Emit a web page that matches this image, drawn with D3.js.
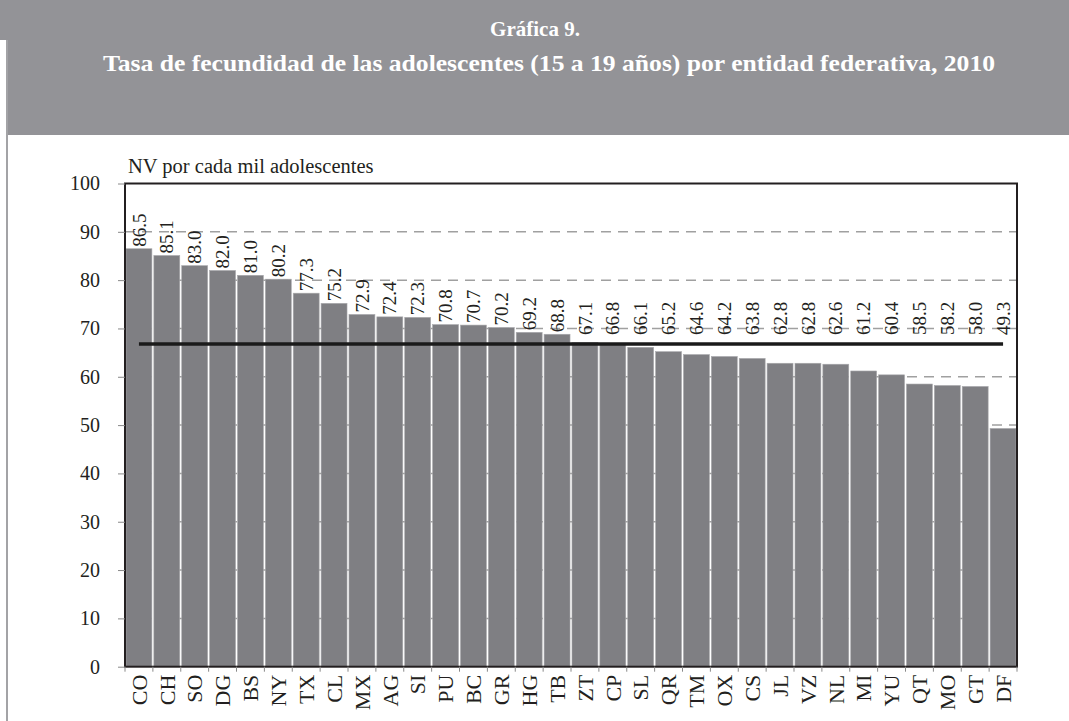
<!DOCTYPE html>
<html>
<head>
<meta charset="utf-8">
<script src="https://cdn.jsdelivr.net/npm/d3@7"></script>
<style>
  body { margin: 0; background: #fff; }
  svg { display: block; font-family: "Liberation Serif", "DejaVu Serif", serif; }
</style>
</head>
<body>
<svg id="chart" width="1069" height="721"></svg>
<script>
// entidades federativas, ordered as in the chart
let states = ["CO","CH","SO","DG","BS","NY","TX","CL","MX","AG","SI","PU","BC","GR","HG","TB",
              "ZT","CP","SL","QR","TM","OX","CS","JL","VZ","NL","MI","YU","QT","MO","GT","DF"];
// births per thousand adolescents (15-19), 2010
let rates = [86.5,85.1,83.0,82.0,81.0,80.2,77.3,75.2,72.9,72.4,72.3,70.8,70.7,70.2,69.2,68.8,
             67.1,66.8,66.1,65.2,64.6,64.2,63.8,62.8,62.8,62.6,61.2,60.4,58.5,58.2,58.0,49.3];
let nationalRate = [66.8]; // national reference line
let yTicks = [0,10,20,30,40,50,60,70,80,90,100];

let svg = d3.select("#chart");

// header band
svg.append("rect").attr("x", 6).attr("y", 0).attr("width", 1063).attr("height", 135).attr("fill", "#939397");
svg.append("rect").attr("x", 0).attr("y", 0).attr("width", 6).attr("height", 40).attr("fill", "#939397");
svg.append("line").attr("x1", 7).attr("x2", 7).attr("y1", 40).attr("y2", 721)
    .attr("stroke", "#a3a3a6").attr("stroke-width", 2);

svg.append("text")
    .attr("x", 535).attr("y", 36)
    .attr("text-anchor", "middle")
    .attr("fill", "#fff").attr("font-weight", "bold").attr("font-size", 21)
    .text("Gráfica 9.");
svg.append("text")
    .attr("x", 549).attr("y", 71)
    .attr("text-anchor", "middle")
    .attr("fill", "#fff").attr("font-weight", "bold").attr("font-size", 23)
    .attr("textLength", 892).attr("lengthAdjust", "spacingAndGlyphs")
    .text("Tasa de fecundidad de las adolescentes (15 a 19 años) por entidad federativa, 2010");

let margin = {top: 183.5, left: 125, right: 1017, bottom: 666.7};

let x = d3.scaleBand()
    .domain(states)
    .range([margin.left, margin.right])
    .paddingInner(0.07)
    .paddingOuter(0.035);
let y = d3.scaleLinear()
    .domain([0, 100])
    .range([margin.bottom, margin.top]);

let g = svg.append("g");

// dashed grid
g.selectAll(".grid")
    .data(yTicks.filter(d => d > 0 && d < 100))
  .enter().append("line")
    .attr("x1", margin.left).attr("x2", margin.right)
    .attr("y1", d => y(d)).attr("y2", d => y(d))
    .attr("stroke", "#a0a0a0").attr("stroke-width", 1.5)
    .attr("stroke-dasharray", "10,7");

// bars
g.selectAll(".bar")
    .data(rates)
  .enter().append("rect")
    .attr("x", (d, i) => x(states[i]))
    .attr("width", x.bandwidth())
    .attr("y", d => y(d))
    .attr("height", d => y(0) - y(d))
    .attr("fill", "#7f7f83")
    .attr("stroke", "#a9a9ac").attr("stroke-width", 0.6);

// national line
g.append("line")
    .attr("x1", x(states[0]) + x.bandwidth() / 2)
    .attr("x2", x(states[states.length - 1]) + x.bandwidth() / 2)
    .attr("y1", y(nationalRate[0])).attr("y2", y(nationalRate[0]))
    .attr("stroke", "#1a1a1a").attr("stroke-width", 3.5);

// value labels
g.selectAll(".val")
    .data(rates)
  .enter().append("text")
    .attr("transform", (d, i) => {
      let cx = x(states[i]) + x.bandwidth() / 2;
      let yy = Math.min(y(d), y(nationalRate[0]) - 7) - 2;
      return "translate(" + cx + "," + yy + ") rotate(-90)";
    })
    .attr("dy", "0.35em")
    .attr("font-size", 19)
    .attr("fill", "#231f20")
    .text(d => d.toFixed(1));

// frame
g.append("rect")
    .attr("x", margin.left).attr("y", margin.top)
    .attr("width", margin.right - margin.left).attr("height", margin.bottom - margin.top)
    .attr("fill", "none").attr("stroke", "#231f20").attr("stroke-width", 2);

// y axis
let yAxis = svg.append("g")
    .attr("transform", "translate(" + margin.left + ",0)")
    .call(d3.axisLeft(y).tickValues(yTicks).tickSize(7).tickPadding(18).tickFormat(d3.format("d")));
yAxis.select(".domain").remove();
yAxis.selectAll(".tick line").attr("stroke", "#888");
yAxis.selectAll(".tick text").attr("font-size", 20).attr("fill", "#231f20").attr("font-family", "Liberation Serif");

// x axis ticks at band boundaries
let step = x.step();
let bounds = states.map((s, i) => x(s) - x.paddingInner() * step / 2);
bounds.push(margin.right);
svg.selectAll(".xtick")
    .data(bounds)
  .enter().append("line")
    .attr("x1", d => d).attr("x2", d => d)
    .attr("y1", margin.bottom).attr("y2", margin.bottom + 5)
    .attr("stroke", "#888").attr("stroke-width", 1);

svg.selectAll(".xlab")
    .data(states)
  .enter().append("text")
    .attr("transform", d => "translate(" + (x(d) + x.bandwidth() / 2) + "," + (margin.bottom + 8) + ") rotate(-90)")
    .attr("dy", "0.35em")
    .attr("text-anchor", "end")
    .attr("font-size", 22)
    .attr("fill", "#231f20")
    .text(d => d);

// unit label
svg.append("text")
    .attr("x", 128).attr("y", 173)
    .attr("font-size", 20.5)
    .attr("fill", "#231f20")
    .text("NV por cada mil adolescentes");
</script>
</body>
</html>
